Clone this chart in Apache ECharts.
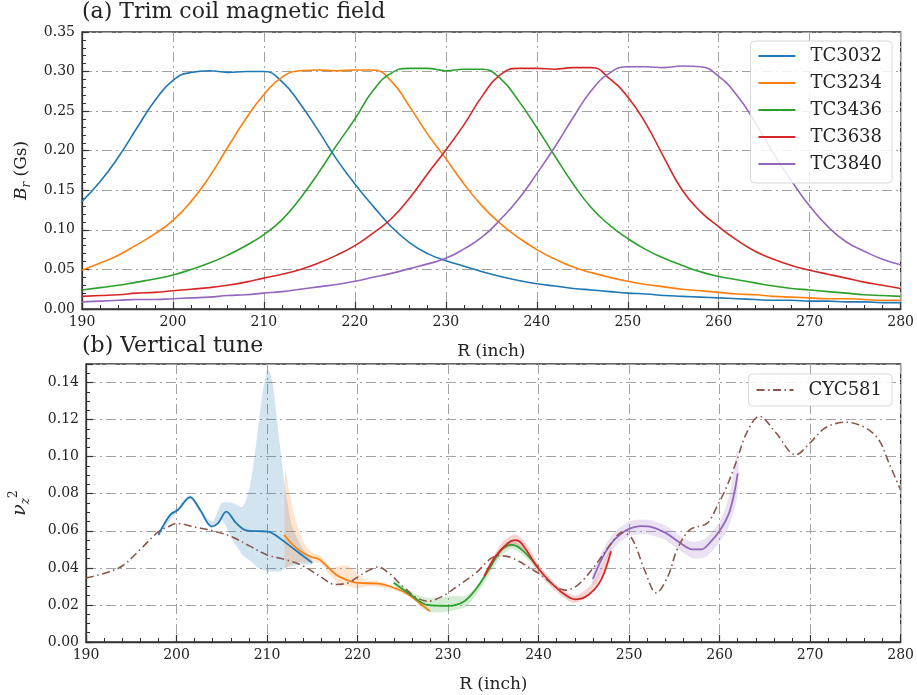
<!DOCTYPE html>
<html lang="en">
<head>
<meta charset="UTF-8">
<title>Trim coil field and vertical tune</title>
<script src="https://cdn.jsdelivr.net/npm/echarts@6/dist/echarts.min.js"></script>
<style>html,body{margin:0;padding:0;background:#fff}</style>
</head>
<body>
<div id="ec" style="width:917px;height:695px"></div>
<script>
// ---- (a) trim coil field, sampled every 2 inch
var R = [190,192,194,196,198,200,202,204,206,208,210,212,214,216,218,220,222,224,226,228,230,232,234,236,238,240,242,244,246,248,250,252,254,256,258,260,262,264,266,268,270,272,274,276,278,280]
var tc3032 = [.136,.161,.192,.228,.263,.289,.299,.301,.299,.300,.300,.287,.259,.225,.189,.158,.130,.104,.084,.070,.061,.054,.047,.041,.036,.032,.029,.026,.024,.022,.020,.019,.017,.016,.015,.014,.013,.012,.011,.011,.010,.010,.009,.009,.008,.008]
var tc3234 = [.049,.058,.068,.081,.095,.112,.136,.167,.204,.240,.271,.293,.301,.302,.301,.302,.302,.288,.256,.221,.190,.158,.130,.108,.090,.075,.063,.053,.046,.040,.035,.031,.028,.025,.023,.021,.019,.018,.016,.015,.014,.013,.013,.012,.011,.011]
var tc3436 = [.024,.027,.030,.034,.038,.043,.050,.058,.068,.080,.094,.113,.140,.172,.207,.240,.276,.298,.304,.304,.301,.303,.303,.291,.263,.229,.193,.158,.128,.106,.089,.075,.064,.055,.047,.041,.037,.033,.029,.026,.024,.022,.020,.018,.017,.016]
var tc3638 = [.016,.017,.018,.020,.021,.023,.025,.027,.030,.034,.039,.044,.050,.058,.068,.080,.096,.114,.140,.171,.201,.233,.269,.296,.304,.304,.303,.305,.305,.291,.268,.234,.191,.150,.123,.104,.087,.073,.063,.055,.049,.044,.039,.034,.030,.026]
var tc3840 = [.009,.010,.011,.012,.012,.013,.014,.015,.017,.018,.020,.022,.025,.028,.031,.035,.040,.045,.051,.057,.064,.076,.091,.113,.139,.171,.205,.242,.276,.298,.306,.306,.305,.307,.306,.294,.270,.236,.197,.162,.130,.104,.085,.073,.063,.056]
var names = ['TC3032','TC3234','TC3436','TC3638','TC3840']
var colors = ['#1f77b4','#ff7f0e','#2ca02c','#d62728','#9467bd']

// ---- (b) vertical tune
var cycR = [190,192,194,196,198,199,200,202,204,206,208,210,212,214,216,217.5,219,220,221,222.3,223.5,225,226.5,227.8,229.3,231,233,235.5,237,240,243,244.4,246.2,248,249.2,250.3,251.7,253,254.3,255.3,256.7,258.6,259.7,260.8,261.9,263,264.4,266.2,268.4,270,271.7,273.9,276.1,277.6,278.7,280]
var cycV = [.0346,.037,.041,.050,.0595,.062,.064,.062,.060,.057,.052,.047,.0445,.041,.035,.031,.032,.035,.038,.0405,.037,.030,.024,.022,.0245,.030,.037,.0465,.0455,.037,.028,.031,.041,.053,.059,.056,.039,.0265,.0355,.0497,.0605,.064,.073,.084,.098,.113,.1218,.113,.101,.1075,.1156,.1186,.1156,.109,.0967,.082]

var t3032R = [198,199.3,200.2,201.5,202.6,203.9,204.6,205.5,206.6,207.7,209,210.1,211.4,212.8,215]
var t3032V = [.0578,.0686,.0714,.0782,.0714,.0623,.0641,.0704,.0641,.0602,.0598,.0596,.056,.0508,.0427]
var t3234R = [211.9,213.2,214.7,215.8,217.6,218.7,220,222.3,224.2,225.6,227.1,228]
var t3234V = [.0577,.0508,.0463,.0445,.0364,.0337,.0319,.0315,.029,.0256,.020,.0166]
var t3436R = [224,225.9,227.7,230,231.8,233.3,234.8,235.9,237,238.1,240]
var t3436V = [.032,.0254,.020,.0195,.022,.030,.0416,.0497,.0524,.050,.040]
var t3638R = [234,235.2,236.6,237.4,238.1,240,241.8,243.2,244,245.5,246.9,248]
var t3638V = [.0355,.046,.0533,.055,.0533,.0395,.030,.0245,.023,.0254,.0335,.049]
var t3840R = [246,247,248,249,250,251.3,252.5,254,255.5,257,258,259,260,261,261.6,262]
var t3840V = [.034,.045,.053,.058,.061,.0625,.062,.059,.054,.050,.050,.054,.060,.069,.080,.091]

// uncertainty bands: R, lower, upper
var b3032R = [198,200,201.5,203,204,205,206.2,207.3,208.1,208.8,209.5,210.1,210.6,211.4,212.1,212.8,214,215]
var b3032Lo = [.057,.070,.077,.067,.062,.066,.055,.047,.044,.041,.039,.038,.038,.038,.040,.041,.042,.042]
var b3032Hi = [.058,.072,.079,.069,.065,.075,.075,.073,.084,.107,.134,.147,.140,.107,.080,.062,.050,.044]
var b3234R = [212,212.5,213.2,214,215,216,217,218,219,220,221,222,224,226,228]
var b3234Lo = [.040,.041,.043,.043,.043,.042,.036,.031,.030,.029,.030,.030,.028,.024,.016]
var b3234Hi = [.093,.080,.065,.054,.048,.046,.040,.041,.041,.037,.033,.033,.030,.026,.017]
var b3436R = [224,226,227.5,229,230.5,232,233.5,235,236,237,238,240]
var b3436Lo = [.031,.024,.017,.016,.017,.019,.028,.040,.047,.050,.048,.039]
var b3436Hi = [.033,.027,.024,.024,.025,.025,.032,.044,.051,.055,.052,.041]
var b3638R = [234,236,237.4,238.5,240,242,244,246,248]
var b3638Lo = [.034,.049,.052,.049,.037,.027,.021,.028,.047]
var b3638Hi = [.037,.054,.058,.054,.042,.031,.025,.032,.051]
var b3840R = [246,248,250,252,254,256,257.2,258.5,260,261,262]
var b3840Lo = [.031,.049,.057,.058,.055,.048,.045,.046,.054,.062,.080]
var b3840Hi = [.038,.057,.065,.066,.063,.056,.054,.056,.065,.078,.104]

var serif = 'DejaVu Serif'
var ec = echarts.init(document.getElementById('ec'))

function pairs(xs, ys) {
    return xs.map(function (x, i) { return [x, ys[i]] })
}

var gridLine = { show: true, lineStyle: { color: '#a3a3a3', width: 1, type: [10, 4, 2, 4] } }

function xAxis(gi) {
    return {
        type: 'value', gridIndex: gi, min: 190, max: 280, interval: 10,
        name: 'R (inch)', nameLocation: 'middle', nameGap: 34,
        nameTextStyle: { fontFamily: serif, fontSize: 17, color: '#222' },
        axisLine: { lineStyle: { color: '#333', width: 1.3 } },
        axisTick: { inside: true, length: 7, lineStyle: { color: '#333', width: 1.2 } },
        minorTick: { show: true, splitNumber: 5, length: 4, lineStyle: { color: '#333', width: 1 } },
        axisLabel: { fontFamily: serif, fontSize: 14, color: '#222', margin: 6 },
        splitLine: gridLine
    }
}

// filled band between lower and upper edges, drawn once through the axis scales
function bandSeries(xs, lo, hi, color) {
    return {
        type: 'custom', xAxisIndex: 1, yAxisIndex: 1, silent: true, z: 1,
        data: xs.map(function (x, i) { return [x, lo[i], hi[i]] }),
        encode: { x: 0, y: [1, 2] },
        renderItem: function (params, api) {
            if (params.dataIndex !== 0) return
            var pts = []
            for (var i = 0; i < xs.length; i++) pts.push(api.coord([xs[i], hi[i]]))
            for (var j = xs.length - 1; j >= 0; j--) pts.push(api.coord([xs[j], lo[j]]))
            return {
                type: 'polygon',
                shape: { points: pts, smooth: 0.25 },
                style: { fill: color, opacity: 0.2 }
            }
        }
    }
}

var series = []
var tune = [[t3032R, t3032V], [t3234R, t3234V], [t3436R, t3436V], [t3638R, t3638V], [t3840R, t3840V]]
var bands = [[b3032R, b3032Lo, b3032Hi], [b3234R, b3234Lo, b3234Hi], [b3436R, b3436Lo, b3436Hi], [b3638R, b3638Lo, b3638Hi], [b3840R, b3840Lo, b3840Hi]]
var tops = [tc3032, tc3234, tc3436, tc3638, tc3840]

names.forEach(function (n, k) {
    series.push({
        name: n, type: 'line', xAxisIndex: 0, yAxisIndex: 0,
        data: pairs(R, tops[k]), smooth: 0.5, symbol: 'none',
        lineStyle: { color: colors[k], width: 1.6 }, itemStyle: { color: colors[k] }
    })
})
bands.forEach(function (b, k) {
    series.push(bandSeries(b[0], b[1], b[2], colors[k]))
})
tune.forEach(function (t, k) {
    series.push({
        name: 'tune' + names[k], type: 'line', xAxisIndex: 1, yAxisIndex: 1,
        data: pairs(t[0], t[1]), smooth: 0.35, symbol: 'none', z: 3,
        lineStyle: { color: colors[k], width: 1.8 }
    })
})
series.push({
    name: 'CYC581', type: 'line', xAxisIndex: 1, yAxisIndex: 1,
    data: pairs(cycR, cycV), smooth: 0.35, symbol: 'none', z: 4,
    lineStyle: { color: '#8c564b', width: 1.6, type: [8, 3.5, 1.5, 3.5] },
    itemStyle: { color: '#8c564b' }
})

var legendBase = {
    orient: 'vertical', right: 25, itemWidth: 37, itemHeight: 14, itemGap: 9,
    borderColor: '#d8d8d8', borderWidth: 1, borderRadius: 4,
    backgroundColor: 'rgba(255,255,255,0.85)', selectedMode: false,
    itemStyle: { opacity: 0 },
    lineStyle: { width: 2 },
    textStyle: { fontFamily: serif, fontSize: 18, color: '#222', lineHeight: 18, padding: [0, 0, 0, 10] }
}

var option = {
    animation: false,
    title: [
        { text: '(a) Trim coil magnetic field', left: 77, top: -4, textStyle: { fontFamily: serif, fontSize: 22, fontWeight: 'normal', color: '#222' } },
        { text: '(b) Vertical tune', left: 77, top: 330, textStyle: { fontFamily: serif, fontSize: 22, fontWeight: 'normal', color: '#222' } }
    ],
    legend: [
        Object.assign({}, legendBase, { data: names, top: 41, padding: [6, 10, 10, 7] }),
        Object.assign({}, legendBase, { data: ['CYC581'], top: 374, padding: [7, 10, 7, 7] })
    ],
    grid: [
        { left: 82, right: 15, top: 32, height: 277, show: true, borderColor: '#333', borderWidth: 1.3 },
        { left: 82, right: 15, top: 364, height: 278, show: true, borderColor: '#333', borderWidth: 1.3 }
    ],
    xAxis: [xAxis(0), xAxis(1)],
    yAxis: [
        {
            type: 'value', gridIndex: 0, min: 0, max: 0.35, interval: 0.05,
            name: '{i|B}{s|r}{n| (Gs)}', nameLocation: 'middle', nameGap: 46, nameRotate: 90,
            nameTextStyle: {
                fontFamily: serif, fontSize: 17, color: '#222',
                rich: {
                    i: { fontFamily: serif, fontSize: 17, fontStyle: 'italic', color: '#222', lineHeight: 22 },
                    s: { fontFamily: serif, fontSize: 12, fontStyle: 'italic', color: '#222', verticalAlign: 'bottom', lineHeight: 22 },
                    n: { fontFamily: serif, fontSize: 17, color: '#222', lineHeight: 22 }
                }
            },
            axisLine: { show: true, lineStyle: { color: '#333', width: 1.3 } },
            axisTick: { show: true, inside: true, length: 7, lineStyle: { color: '#333', width: 1.2 } },
            minorTick: { show: true, splitNumber: 5, length: 4, lineStyle: { color: '#333', width: 1 } },
            axisLabel: { fontFamily: serif, fontSize: 14, color: '#222', margin: 7, formatter: function (v) { return v.toFixed(2) } },
            splitLine: gridLine
        },
        {
            type: 'value', gridIndex: 1, min: 0, max: 0.15, interval: 0.02,
            name: '{v|ν}{z|z}{t|2}', nameLocation: 'middle', nameGap: 54, nameRotate: 90,
            nameTextStyle: {
                fontFamily: serif, fontSize: 18, color: '#222',
                rich: {
                    v: { fontFamily: serif, fontSize: 19, fontStyle: 'italic', color: '#222', lineHeight: 24 },
                    z: { fontFamily: serif, fontSize: 12, fontStyle: 'italic', color: '#222', verticalAlign: 'bottom', lineHeight: 24 },
                    t: { fontFamily: serif, fontSize: 12, color: '#222', verticalAlign: 'top', lineHeight: 24 }
                }
            },
            axisLine: { show: true, lineStyle: { color: '#333', width: 1.3 } },
            axisTick: { show: true, inside: true, length: 7, lineStyle: { color: '#333', width: 1.2 } },
            minorTick: { show: true, splitNumber: 4, length: 4, lineStyle: { color: '#333', width: 1 } },
            axisLabel: { fontFamily: serif, fontSize: 14, color: '#222', margin: 7, formatter: function (v) { return v > 0.1401 ? '' : v.toFixed(2) } },
            splitLine: gridLine
        }
    ],
    series: series
}
ec.setOption(option)
</script>
</body>
</html>
